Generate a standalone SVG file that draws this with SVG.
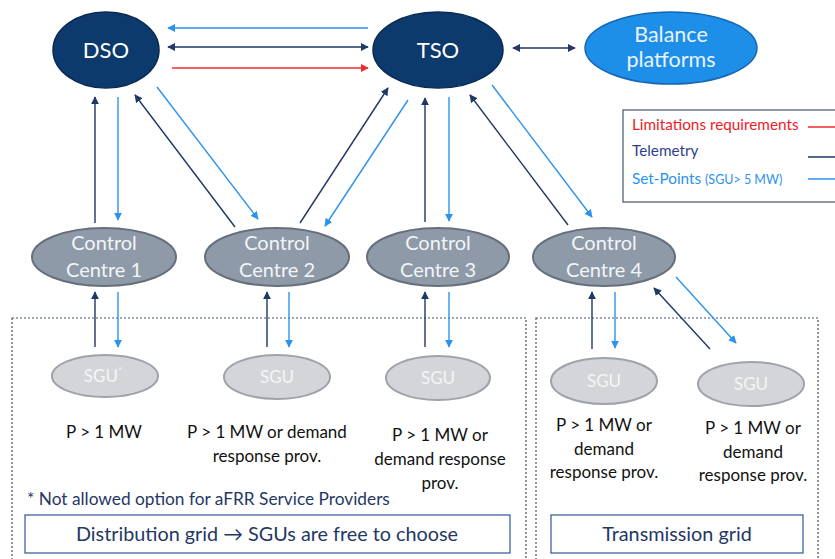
<svg xmlns="http://www.w3.org/2000/svg" width="835" height="559" viewBox="0 0 835 559">
<defs>
<style>
.t{font-family:Lato,"Open Sans","Liberation Sans",sans-serif}
.big{fill:#ffffff;font-size:22px;text-anchor:middle}
.cc{fill:#8e9aa8;stroke:#65707c;stroke-width:2}
.cct{fill:#f2f5f8;font-size:20px;text-anchor:middle}
.sgu{fill:#d3d5d9;stroke:#9ea3a9;stroke-width:2}
.sgut{fill:#f4f5f7;font-size:17px;text-anchor:middle}
.lbl{fill:#111111;font-size:17px;text-anchor:middle}
.nv{stroke:#1f3864;stroke-width:1.4;fill:none}
.lb{stroke:#2b93ec;stroke-width:1.4;fill:none}
.rd{stroke:#f02a2a;stroke-width:1.6;fill:none}
.dot{fill:none;stroke:#44546a;stroke-width:1.2;stroke-dasharray:2 2}
.box{fill:#ffffff;stroke:#2f5597;stroke-width:1.2}
</style>
<marker id="an" viewBox="0 0 10 10" refX="9" refY="5" markerWidth="8" markerHeight="8" markerUnits="userSpaceOnUse" orient="auto-start-reverse"><path d="M0,0 L10,5 L0,10 z" fill="#1f3864"/></marker>
<marker id="ab" viewBox="0 0 10 10" refX="9" refY="5" markerWidth="8" markerHeight="8" markerUnits="userSpaceOnUse" orient="auto-start-reverse"><path d="M0,0 L10,5 L0,10 z" fill="#2b93ec"/></marker>
<marker id="ar" viewBox="0 0 10 10" refX="9" refY="5" markerWidth="8" markerHeight="8" markerUnits="userSpaceOnUse" orient="auto-start-reverse"><path d="M0,0 L10,5 L0,10 z" fill="#f02a2a"/></marker>
</defs>
<rect width="835" height="559" fill="#ffffff"/>

<g id="grid-areas">
<rect class="dot" x="12" y="318" width="514" height="245"/>
<rect class="dot" x="536" y="318" width="282" height="245"/>
</g>

<g id="legend">
<rect x="623" y="110" width="230" height="92" fill="#ffffff" stroke="#44546a" stroke-width="1.2"/>
<text class="t" x="632" y="130" font-size="15.3" fill="#ee1c25">Limitations requirements</text>
<text class="t" x="632" y="156" font-size="15.3" fill="#2e3f8f">Telemetry</text>
<text class="t" x="632" y="184" font-size="15.3" fill="#2b93ec">Set-Points <tspan font-size="12.5">(SGU&gt; 5 MW)</tspan></text>
<line class="rd" x1="808" y1="127" x2="845" y2="127"/>
<line class="nv" x1="808" y1="157" x2="845" y2="157"/>
<line class="lb" x1="808" y1="179" x2="845" y2="179"/>
</g>

<g id="connectors">
<line class="lb" x1="368" y1="28" x2="168" y2="28" marker-end="url(#ab)"/>
<line class="nv" x1="168" y1="47" x2="368" y2="47" marker-start="url(#an)" marker-end="url(#an)"/>
<line class="rd" x1="172" y1="68" x2="368" y2="68" marker-end="url(#ar)"/>
<line class="nv" x1="513" y1="48" x2="575" y2="48" marker-start="url(#an)" marker-end="url(#an)"/>

<line class="nv" x1="95" y1="223" x2="95" y2="97" marker-end="url(#an)"/>
<line class="lb" x1="118" y1="97" x2="118" y2="220" marker-end="url(#ab)"/>
<line class="nv" x1="235" y1="227" x2="135" y2="95" marker-end="url(#an)"/>
<line class="lb" x1="157" y1="87" x2="258" y2="219" marker-end="url(#ab)"/>
<line class="nv" x1="300" y1="223" x2="388" y2="88" marker-end="url(#an)"/>
<line class="lb" x1="408" y1="100" x2="325" y2="226" marker-end="url(#ab)"/>
<line class="nv" x1="425" y1="222" x2="425" y2="98" marker-end="url(#an)"/>
<line class="lb" x1="449" y1="97" x2="449" y2="221" marker-end="url(#ab)"/>
<line class="nv" x1="568" y1="225" x2="470" y2="95" marker-end="url(#an)"/>
<line class="lb" x1="492" y1="85" x2="592" y2="217" marker-end="url(#ab)"/>

<line class="nv" x1="95" y1="347" x2="95" y2="292" marker-end="url(#an)"/>
<line class="lb" x1="118" y1="292" x2="118" y2="347" marker-end="url(#ab)"/>
<line class="nv" x1="267" y1="347" x2="267" y2="292" marker-end="url(#an)"/>
<line class="lb" x1="289" y1="292" x2="289" y2="347" marker-end="url(#ab)"/>
<line class="nv" x1="425" y1="347" x2="425" y2="292" marker-end="url(#an)"/>
<line class="lb" x1="449" y1="292" x2="449" y2="347" marker-end="url(#ab)"/>
<line class="nv" x1="592" y1="349" x2="592" y2="292" marker-end="url(#an)"/>
<line class="lb" x1="615" y1="292" x2="615" y2="348" marker-end="url(#ab)"/>
<line class="nv" x1="710" y1="349" x2="654" y2="288" marker-end="url(#an)"/>
<line class="lb" x1="676" y1="277" x2="736" y2="343" marker-end="url(#ab)"/>
</g>

<g id="dso">
<ellipse cx="106" cy="50" rx="53" ry="38" fill="#0c3a6c" stroke="#082a52" stroke-width="1.5"/>
<text class="t big" x="106" y="58">DSO</text>
</g>
<g id="tso">
<ellipse cx="438" cy="50" rx="65" ry="38" fill="#0c3a6c" stroke="#082a52" stroke-width="1.5"/>
<text class="t big" x="438" y="58">TSO</text>
</g>
<g id="balance">
<ellipse cx="671" cy="48" rx="86" ry="36" fill="#1e8fe9" stroke="#1566b3" stroke-width="1.5"/>
<text class="t" x="671" y="42" font-size="21.5" fill="#eaf3ff" text-anchor="middle">Balance</text>
<text class="t" x="671" y="67" font-size="21.5" fill="#eaf3ff" text-anchor="middle">platforms</text>
</g>

<g id="cc1">
<ellipse class="cc" cx="104" cy="257" rx="72" ry="29"/>
<text class="t cct" x="104" y="250">Control</text>
<text class="t cct" x="104" y="277">Centre 1</text>
</g>
<g id="cc2">
<ellipse class="cc" cx="277" cy="257" rx="72" ry="29"/>
<text class="t cct" x="277" y="250">Control</text>
<text class="t cct" x="277" y="277">Centre 2</text>
</g>
<g id="cc3">
<ellipse class="cc" cx="438" cy="257" rx="71" ry="29"/>
<text class="t cct" x="438" y="250">Control</text>
<text class="t cct" x="438" y="277">Centre 3</text>
</g>
<g id="cc4">
<ellipse class="cc" cx="604" cy="257" rx="71" ry="29"/>
<text class="t cct" x="604" y="250">Control</text>
<text class="t cct" x="604" y="277">Centre 4</text>
</g>

<g id="sgu1">
<ellipse class="sgu" cx="105" cy="376" rx="53" ry="21"/>
<text class="t sgut" x="103" y="382">SGU<tspan font-size="10" dy="-8">*</tspan></text>
<text class="t lbl" x="104" y="438">P &gt; 1 MW</text>
</g>
<g id="sgu2">
<ellipse class="sgu" cx="277" cy="377" rx="53" ry="22"/>
<text class="t sgut" x="277" y="383">SGU</text>
<text class="t lbl" x="267" y="438">P &gt; 1 MW or demand</text>
<text class="t lbl" x="267" y="462">response prov.</text>
</g>
<g id="sgu3">
<ellipse class="sgu" cx="438" cy="378" rx="52" ry="22"/>
<text class="t sgut" x="438" y="384">SGU</text>
<text class="t lbl" x="440" y="441">P &gt; 1 MW or</text>
<text class="t lbl" x="440" y="465">demand response</text>
<text class="t lbl" x="440" y="489">prov.</text>
</g>
<g id="sgu4">
<ellipse class="sgu" cx="604" cy="381" rx="53" ry="23"/>
<text class="t sgut" x="604" y="387">SGU</text>
<text class="t lbl" x="604" y="431">P &gt; 1 MW or</text>
<text class="t lbl" x="604" y="455">demand</text>
<text class="t lbl" x="604" y="478">response prov.</text>
</g>
<g id="sgu5">
<ellipse class="sgu" cx="751" cy="384" rx="53" ry="22"/>
<text class="t sgut" x="751" y="390">SGU</text>
<text class="t lbl" x="753" y="434">P &gt; 1 MW or</text>
<text class="t lbl" x="753" y="458">demand</text>
<text class="t lbl" x="753" y="481">response prov.</text>
</g>

<g id="footnote">
<text class="t" x="27" y="505" font-size="17.3" fill="#1f3864">* Not allowed option for aFRR Service Providers</text>
</g>

<g id="distribution-label">
<rect class="box" x="25" y="515" width="485" height="38"/>
<text class="t" x="267" y="541" font-size="19.8" fill="#1f3864" text-anchor="middle">Distribution grid → SGUs are free to choose</text>
</g>
<g id="transmission-label">
<rect class="box" x="551" y="515" width="252" height="38"/>
<text class="t" x="677" y="541" font-size="19.8" fill="#1f3864" text-anchor="middle">Transmission grid</text>
</g>
</svg>
